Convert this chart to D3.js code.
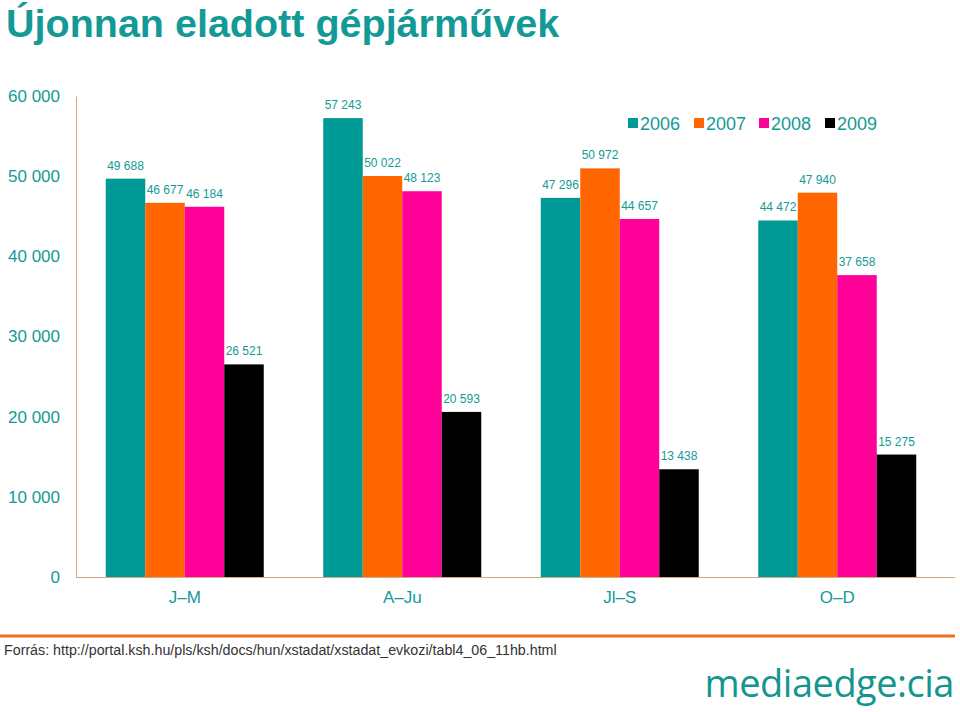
<!DOCTYPE html>
<html><head><meta charset="utf-8">
<script src="https://cdn.jsdelivr.net/npm/d3@7"></script>
<style>body{margin:0;background:#fff}svg{display:block}</style>
</head><body>
<script>
const categories = ["J–M", "A–Ju", "Jl–S", "O–D"];
const years = ["2006", "2007", "2008", "2009"];
const s2006 = [49688, 57243, 47296, 44472];
const s2007 = [46677, 50022, 50972, 47940];
const s2008 = [46184, 48123, 44657, 37658];
const s2009 = [26521, 20593, 13438, 15275];
const yTicks = [0, 10000, 20000, 30000, 40000, 50000, 60000];
const series = [s2006, s2007, s2008, s2009];
const colors = ["#009a96", "#ff6600", "#ff0099", "#000000"];
const teal = "#139a96";

const W = 960, H = 712;
const svg = d3.select("body").append("svg").attr("width", W).attr("height", H);
const font = "Liberation Sans, Arial, sans-serif";
const loc = d3.formatLocale({decimal: ",", thousands: "\u00a0", grouping: [3], currency: ["", ""]});
const fmt = loc.format(",d");

// title
svg.append("text").attr("x", 6).attr("y", 37).text("Újonnan eladott gépjárművek")
  .attr("font-family", font).attr("font-weight", "bold").attr("font-size", 39.5).attr("fill", teal);

const x0 = d3.scaleBand().domain(categories).range([76, 946]).paddingInner(0.2736).paddingOuter(0.1368);
const x1 = d3.scaleBand().domain(years).range([0, x0.bandwidth()]);
const y = d3.scaleLinear().domain([0, 60000]).range([577, 96]);

// y axis
const yAxis = d3.axisLeft(y).tickValues(yTicks).tickSize(0).tickPadding(16).tickFormat(fmt);
const ga = svg.append("g").attr("transform", "translate(76,0)").call(yAxis);
ga.select(".domain").attr("stroke", "#c9ab88");
ga.selectAll("text").attr("font-family", font).attr("font-size", 17).attr("fill", teal);

// bars
const data = [];
categories.forEach((c, i) => years.forEach((yr, j) => data.push({c, yr, v: series[j][i], j})));
svg.append("g").selectAll("rect").data(data).join("rect")
  .attr("x", d => x0(d.c) + x1(d.yr)).attr("width", x1.bandwidth())
  .attr("y", d => y(d.v)).attr("height", d => y(0) - y(d.v)).attr("fill", d => colors[d.j]);

svg.append("g").selectAll("text").data(data).join("text")
  .attr("x", d => x0(d.c) + x1(d.yr) + x1.bandwidth() / 2).attr("y", d => y(d.v) - 9)
  .attr("text-anchor", "middle").attr("font-family", font).attr("font-size", 12).attr("fill", teal)
  .text(d => fmt(d.v));

// x axis
const xAxis = d3.axisBottom(x0).tickSize(0).tickPadding(14);
const gx = svg.append("g").attr("transform", "translate(0,577)").call(xAxis);
gx.select(".domain").remove();
svg.append("line").attr("x1", 76).attr("x2", 955).attr("y1", 577.5).attr("y2", 577.5).attr("stroke", "#c9ab88");
gx.selectAll("text").attr("font-family", font).attr("font-size", 17).attr("fill", teal);

// legend
const lg = svg.append("g").attr("transform", "translate(628,123)");
const lx = [0, 66, 131, 197];
years.forEach((yr, j) => {
  const g = lg.append("g").attr("transform", `translate(${lx[j]},0)`);
  g.append("rect").attr("x", 0).attr("y", -5).attr("width", 10).attr("height", 10).attr("fill", colors[j]);
  g.append("text").attr("x", 12).attr("y", 7).text(yr).attr("font-family", font).attr("font-size", 18).attr("fill", teal);
});

// separator
svg.append("line").attr("x1", 0).attr("x2", 955).attr("y1", 636).attr("y2", 636).attr("stroke", "#f07020").attr("stroke-width", 3);
svg.append("text").attr("x", 4).attr("y", 655).text("Forrás: http://portal.ksh.hu/pls/ksh/docs/hun/xstadat/xstadat_evkozi/tabl4_06_11hb.html")
  .attr("font-family", font).attr("font-size", 14.25).attr("fill", "#333");

// logo
svg.append("text").attr("x", 954).attr("y", 697).attr("text-anchor", "end").text("mediaedge:cia")
  .attr("font-family", "Open Sans, sans-serif").attr("font-weight", 400).attr("font-size", 38)
  .attr("letter-spacing", -0.5).attr("fill", "#159590");
</script>
</body></html>
